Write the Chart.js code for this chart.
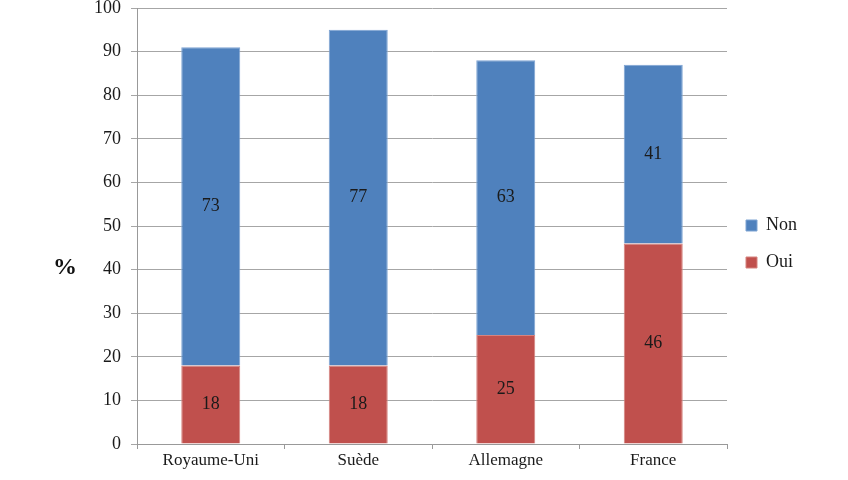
<!DOCTYPE html>
<html>
<head>
<meta charset="utf-8">
<script src="https://cdn.jsdelivr.net/npm/chart.js@4"></script>
<style>
  html, body { margin: 0; padding: 0; background: #fff; }
  #wrap { width: 848px; height: 480px; }
</style>
</head>
<body>
<div id="wrap"><canvas id="barChart"></canvas></div>
<script>
const categories = ["Royaume-Uni", "Suède", "Allemagne", "France"];
const ouiValues = [18, 18, 25, 46];
const nonValues = [73, 77, 63, 41];
const yTicks = [0, 10, 20, 30, 40, 50, 60, 70, 80, 90, 100];

const serif = "'Liberation Serif', 'DejaVu Serif', serif";

// writes each value in the middle of its segment
const segmentLabels = {
  id: "segmentLabels",
  afterDatasetsDraw(chart) {
    const ctx = chart.ctx;
    ctx.save();
    ctx.font = "18px " + serif;
    ctx.fillStyle = "#1a1a1a";
    ctx.textAlign = "center";
    ctx.textBaseline = "middle";
    chart.data.datasets.forEach((ds, i) => {
      chart.getDatasetMeta(i).data.forEach((bar, j) => {
        const mid = (bar.y + bar.base) / 2;
        ctx.fillText(ds.data[j], bar.x, mid);
      });
    });
    ctx.restore();
  }
};

// the "%" sits upright left of the axis
const percentTitle = {
  id: "percentTitle",
  afterDraw(chart) {
    const ctx = chart.ctx;
    ctx.save();
    ctx.font = "bold 24px " + serif;
    ctx.fillStyle = "#111";
    ctx.textAlign = "center";
    ctx.textBaseline = "middle";
    ctx.fillText("%", 65, 268);
    ctx.restore();
  }
};

window.addEventListener("DOMContentLoaded", () => {
  const ctx = document.getElementById("barChart").getContext("2d");

  new Chart(ctx, {
    type: "bar",
    data: {
      labels: categories,
      datasets: [
        {
          label: "Oui",
          data: ouiValues,
          backgroundColor: "#c0504d",
          borderColor: "#d5837f",
          borderWidth: 1,
          barPercentage: 0.4,
          categoryPercentage: 1
        },
        {
          label: "Non",
          data: nonValues,
          backgroundColor: "#4f81bd",
          borderColor: "#7ea4d3",
          borderWidth: 1,
          barPercentage: 0.4,
          categoryPercentage: 1
        }
      ]
    },
    options: {
      responsive: true,
      maintainAspectRatio: false,
      animation: false,
      layout: {
        padding: { top: 8, right: 41, bottom: 0, left: 0 }
      },
      plugins: {
        legend: {
          position: "right",
          reverse: true,
          labels: {
            color: "#1a1a1a",
            font: { family: serif, size: 18 },
            boxWidth: 11,
            boxHeight: 11,
            padding: 19
          }
        },
        tooltip: { enabled: false }
      },
      scales: {
        x: {
          stacked: true,
          afterFit(scale) { scale.height = 36; },
          ticks: {
            color: "#1a1a1a",
            font: { family: serif, size: 17 },
            padding: 1
          },
          grid: {
            offset: true,
            drawOnChartArea: false,
            tickLength: 5,
            color: "#999"
          },
          border: { color: "#999" }
        },
        y: {
          stacked: true,
          min: 0,
          max: 100,
          afterFit(scale) {
            scale.width = 137;
            scale.paddingTop = 0;
            scale.paddingBottom = 0;
          },
          afterBuildTicks(scale) {
            scale.ticks = yTicks.map(v => ({ value: v }));
          },
          ticks: {
            color: "#1a1a1a",
            font: { family: serif, size: 18 },
            padding: 10
          },
          grid: {
            color: "#a6a6a6",
            tickLength: 6
          },
          border: { color: "#999" }
        }
      }
    },
    plugins: [segmentLabels, percentTitle]
  });
});
</script>
</body>
</html>
